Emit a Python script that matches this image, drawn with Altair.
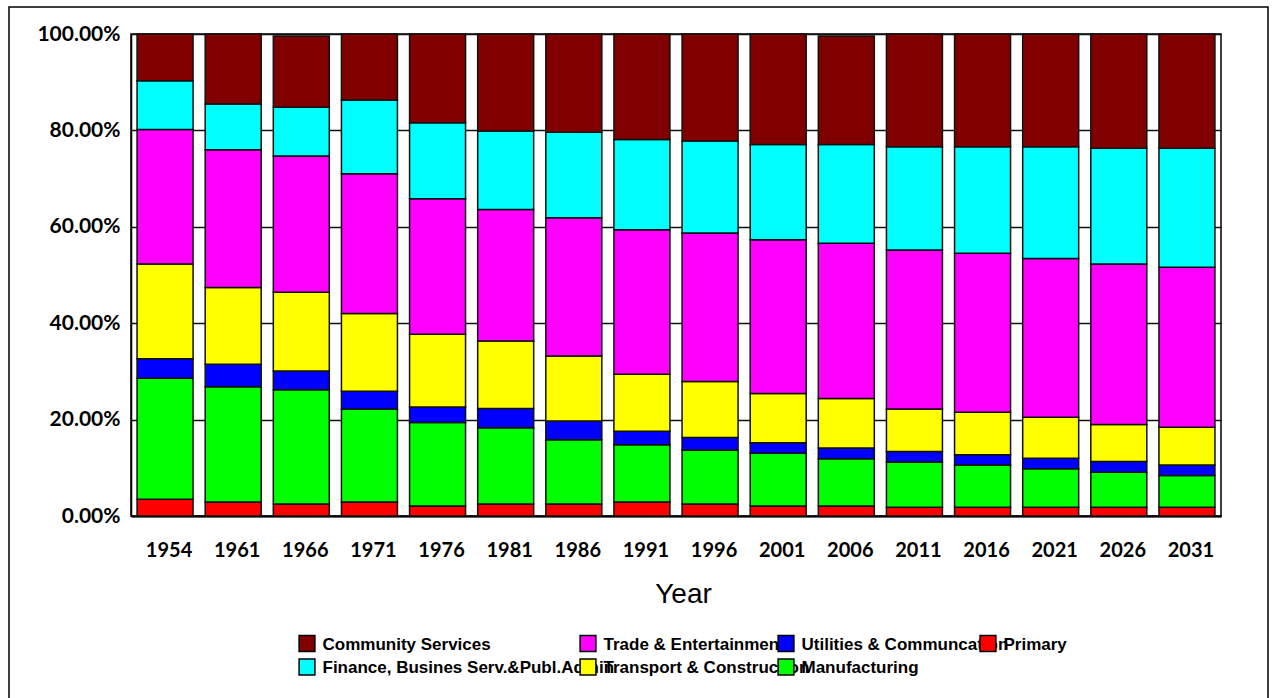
import altair as alt
import pandas as pd

# Employment share by industry sector (% of total), census years and projections
years = ["1954", "1961", "1966", "1971", "1976", "1981", "1986", "1991",
         "1996", "2001", "2006", "2011", "2016", "2021", "2026", "2031"]

primary = [3.5, 2.9, 2.5, 2.9, 2.1, 2.5, 2.5, 2.9, 2.5, 2.1, 2.1, 1.8, 1.8, 1.8, 1.8, 1.8]
manufacturing = [25.1, 23.9, 23.7, 19.3, 17.3, 15.8, 13.3, 11.9, 11.2, 10.9, 9.8, 9.4, 8.8, 8.0, 7.3, 6.6]
utilities = [4.0, 4.7, 3.9, 3.7, 3.2, 4.0, 3.9, 2.8, 2.6, 2.2, 2.2, 2.2, 2.1, 2.2, 2.2, 2.2]
transport = [19.7, 15.9, 16.3, 16.1, 15.1, 14.0, 13.5, 11.8, 11.6, 10.2, 10.3, 8.8, 8.8, 8.5, 7.7, 7.8]
trade = [27.9, 28.6, 28.3, 29.0, 28.1, 27.3, 28.7, 30.0, 30.8, 31.9, 32.2, 33.0, 33.0, 32.9, 33.3, 33.2]
finance = [10.1, 9.5, 10.1, 15.3, 15.8, 16.3, 17.7, 18.7, 19.1, 19.8, 20.5, 21.4, 22.1, 23.2, 24.0, 24.7]
community = [9.7, 14.5, 14.8, 13.7, 18.4, 20.1, 20.4, 21.9, 22.2, 22.9, 22.5, 23.4, 23.4, 23.4, 23.7, 23.7]

# Sectors listed from the bottom of each stack to the top
sectors = [
    ("Primary", primary, "#FF0000"),
    ("Manufacturing", manufacturing, "#00FF00"),
    ("Utilities & Communcation", utilities, "#0000FF"),
    ("Transport & Construction", transport, "#FFFF00"),
    ("Trade & Entertainment", trade, "#FF00FF"),
    ("Finance, Busines Serv.&Publ.Admin", finance, "#00FFFF"),
    ("Community Services", community, "#800000"),
]

# Legend lists the sectors top of stack first, column by column in two rows
legend_order = [name for name, _, _ in reversed(sectors)]
colour_of = {name: col for name, _, col in sectors}

# Legend grid: swatch centres (pixels from the plot's top-left corner)
LEGEND_COL_X = [176, 457, 655, 857]
LEGEND_ROW_Y = [609.5, 633]

rows = []
for rank, (name, vals, _) in enumerate(sectors):
    for yr, v in zip(years, vals):
        rows.append({"Year": yr, "Sector": name, "Share": v / 100.0, "rank": rank})
df = pd.DataFrame(rows)

legend_df = pd.DataFrame({
    "Sector": legend_order,
    "lx": [LEGEND_COL_X[i // 2] for i in range(len(legend_order))],
    "ly": [LEGEND_ROW_Y[i % 2] for i in range(len(legend_order))],
})

W, H = 1090, 482

colour_scale = alt.Scale(domain=legend_order, range=[colour_of[n] for n in legend_order])

bars = alt.Chart(df).mark_bar(stroke="#111111", strokeWidth=1.5).encode(
    x=alt.X("Year:N", sort=years,
            scale=alt.Scale(paddingInner=0.178, paddingOuter=0.089),
            axis=alt.Axis(title="Year", labelAngle=0, ticks=False,
                          labelFont="Lato", labelFontWeight="bold", labelFontSize=20,
                          labelColor="black", labelPadding=24, labelOffset=4,
                          domainColor="black", domainWidth=2,
                          titleFont="Liberation Sans", titleFontWeight="normal",
                          titleFontSize=28, titleColor="black",
                          titleX=552, titleY=86, titleAlign="center",
                          titleBaseline="alphabetic")),
    y=alt.Y("Share:Q", stack="zero",
            scale=alt.Scale(domain=[0, 1], nice=False),
            axis=alt.Axis(title=None, values=[0, 0.2, 0.4, 0.6, 0.8, 1.0], format=".2%",
                          ticks=False, labelFont="Lato", labelFontWeight="bold",
                          labelFontSize=21, labelColor="black", labelPadding=11,
                          grid=True, gridColor="#111111", gridWidth=1.5,
                          domainColor="black", domainWidth=1.5)),
    color=alt.Color("Sector:N", scale=colour_scale, legend=None),
    order=alt.Order("rank:Q", sort="ascending"),
)

# Legend labels, drawn first so the next column's swatch sits on top of long names
legend_text = alt.Chart(legend_df).mark_text(
    align="left", baseline="middle", dx=15.5, dy=1,
    font="Liberation Sans", fontWeight="bold", fontSize=17, color="black"
).encode(
    x=alt.X("lx:Q", scale=None, axis=None),
    y=alt.Y("ly:Q", scale=None, axis=None),
    text="Sector:N",
)

legend_swatch = alt.Chart(legend_df).mark_square(
    size=250, opacity=1, fillOpacity=1, stroke="black", strokeWidth=1.5
).encode(
    x=alt.X("lx:Q", scale=None, axis=None),
    y=alt.Y("ly:Q", scale=None, axis=None),
    fill=alt.Fill("Sector:N", scale=colour_scale, legend=None),
)

# Outer frame around the whole figure
frame = alt.Chart(pd.DataFrame({"f": [0]})).mark_rect(
    fill="transparent", stroke="black", strokeWidth=1.5
).encode(
    x=alt.value(-122), x2=alt.value(1137),
    y=alt.value(-27), y2=alt.value(720),
)

chart = alt.layer(bars, legend_text, legend_swatch, frame).properties(
    width=W, height=H,
    padding={"left": 131, "top": 34, "right": 55, "bottom": 182},
    autosize=alt.AutoSizeParams(type="none"),
    background="white",
).configure_view(
    stroke="black", strokeWidth=1.5
)

chart.save("out.html", embed_options={"renderer": "svg", "actions": False})
